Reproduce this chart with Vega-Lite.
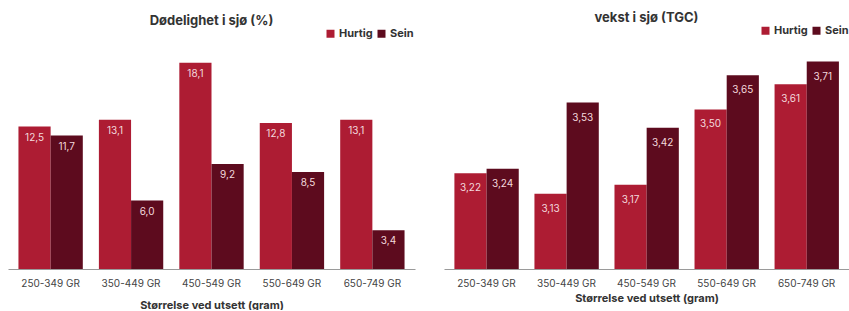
{
  "$schema": "https://vega.github.io/schema/vega-lite/v6.json",
  "padding": {"left": 8, "top": 12, "right": 0, "bottom": 0},
  "background": "white",
  "datasets": {
    "dod": [
      {"size": "250-349 GR", "group": "Hurtig", "value": 12.5},
      {"size": "250-349 GR", "group": "Sein", "value": 11.7},
      {"size": "350-449 GR", "group": "Hurtig", "value": 13.1},
      {"size": "350-449 GR", "group": "Sein", "value": 6.0},
      {"size": "450-549 GR", "group": "Hurtig", "value": 18.1},
      {"size": "450-549 GR", "group": "Sein", "value": 9.2},
      {"size": "550-649 GR", "group": "Hurtig", "value": 12.8},
      {"size": "550-649 GR", "group": "Sein", "value": 8.5},
      {"size": "650-749 GR", "group": "Hurtig", "value": 13.1},
      {"size": "650-749 GR", "group": "Sein", "value": 3.4}
    ],
    "tgc": [
      {"size": "250-349 GR", "group": "Hurtig", "value": 3.22},
      {"size": "250-349 GR", "group": "Sein", "value": 3.24},
      {"size": "350-449 GR", "group": "Hurtig", "value": 3.13},
      {"size": "350-449 GR", "group": "Sein", "value": 3.53},
      {"size": "450-549 GR", "group": "Hurtig", "value": 3.17},
      {"size": "450-549 GR", "group": "Sein", "value": 3.42},
      {"size": "550-649 GR", "group": "Hurtig", "value": 3.50},
      {"size": "550-649 GR", "group": "Sein", "value": 3.65},
      {"size": "650-749 GR", "group": "Hurtig", "value": 3.61},
      {"size": "650-749 GR", "group": "Sein", "value": 3.71}
    ]
  },
  "spacing": 29,
  "resolve": {"scale": {"color": "independent", "y": "independent"}, "legend": {"color": "independent"}},
  "hconcat": [
    {
      "width": 407,
      "height": 228,
      "data": {"name": "dod"},
      "title": {"text": "Dødelighet i sjø (%)", "anchor": "middle", "frame": "group", "fontSize": 13, "fontWeight": "bold", "color": "#333333", "offset": 0},
      "encoding": {
        "x": {"field": "size", "type": "nominal", "sort": null, "scale": {"paddingInner": 0.2, "paddingOuter": 0.13},
          "axis": {"title": "Størrelse ved utsett (gram)", "labelAngle": 0, "titlePadding": 11}},
        "xOffset": {"field": "group", "type": "nominal", "sort": ["Hurtig", "Sein"], "scale": {"paddingInner": 0, "paddingOuter": 0}},
        "y": {"field": "value", "type": "quantitative", "scale": {"domain": [0, 20], "nice": false, "zero": true}, "axis": null}
      },
      "layer": [
        {
          "mark": {"type": "bar"},
          "encoding": {
            "color": {"field": "group", "type": "nominal", "sort": ["Hurtig", "Sein"],
              "scale": {"domain": ["Hurtig", "Sein"], "range": ["#AD1C33", "#5D0B1E"]},
              "legend": {"orient": "none", "legendX": 317, "legendY": -13, "direction": "horizontal", "title": null}}
          }
        },
        {
          "mark": {"type": "text", "baseline": "middle", "dy": 11, "fontSize": 10, "color": "#F3D9DD"},
          "encoding": {"text": {"field": "value", "type": "quantitative", "format": ".1f"}}
        }
      ]
    },
    {
      "width": 405,
      "height": 228,
      "data": {"name": "tgc"},
      "title": {"text": "vekst i sjø (TGC)", "anchor": "middle", "frame": "group", "fontSize": 13, "fontWeight": "bold", "color": "#333333", "offset": 0},
      "encoding": {
        "x": {"field": "size", "type": "nominal", "sort": null, "scale": {"paddingInner": 0.2, "paddingOuter": 0.13},
          "axis": {"title": "Størrelse ved utsett (gram)", "labelAngle": 0, "titlePadding": 4}},
        "xOffset": {"field": "group", "type": "nominal", "sort": ["Hurtig", "Sein"], "scale": {"paddingInner": 0, "paddingOuter": 0}},
        "y": {"field": "value", "type": "quantitative", "scale": {"domain": [2.8, 3.8], "nice": false, "zero": false}, "axis": null}
      },
      "layer": [
        {
          "mark": {"type": "bar", "clip": true},
          "encoding": {
            "color": {"field": "group", "type": "nominal", "sort": ["Hurtig", "Sein"],
              "scale": {"domain": ["Hurtig", "Sein"], "range": ["#AD1C33", "#5D0B1E"]},
              "legend": {"orient": "none", "legendX": 316, "legendY": -16, "direction": "horizontal", "title": null}}
          }
        },
        {
          "mark": {"type": "text", "baseline": "middle", "dy": 15, "fontSize": 10, "color": "#F3D9DD"},
          "encoding": {"text": {"field": "value", "type": "quantitative", "format": ".2f"}}
        }
      ]
    }
  ],
  "config": {
    "font": "Inter",
    "locale": {"number": {"decimal": ",", "thousands": ".", "grouping": [3], "currency": ["", " kr"]}},
    "view": {"stroke": null},
    "axisX": {
      "ticks": false,
      "grid": false,
      "domainColor": "#9a9a9a",
      "domainWidth": 1.2,
      "labelFontSize": 10,
      "labelColor": "#444444",
      "labelPadding": 9,
      "titleFontSize": 11,
      "titleFontWeight": "bold",
      "titleColor": "#333333"
    },
    "legend": {
      "symbolType": "square",
      "symbolSize": 64,
      "labelFontSize": 11,
      "labelFontWeight": "bold",
      "labelColor": "#333333",
      "labelOffset": 3,
      "columnPadding": 3,
      "padding": 0
    }
  }
}
